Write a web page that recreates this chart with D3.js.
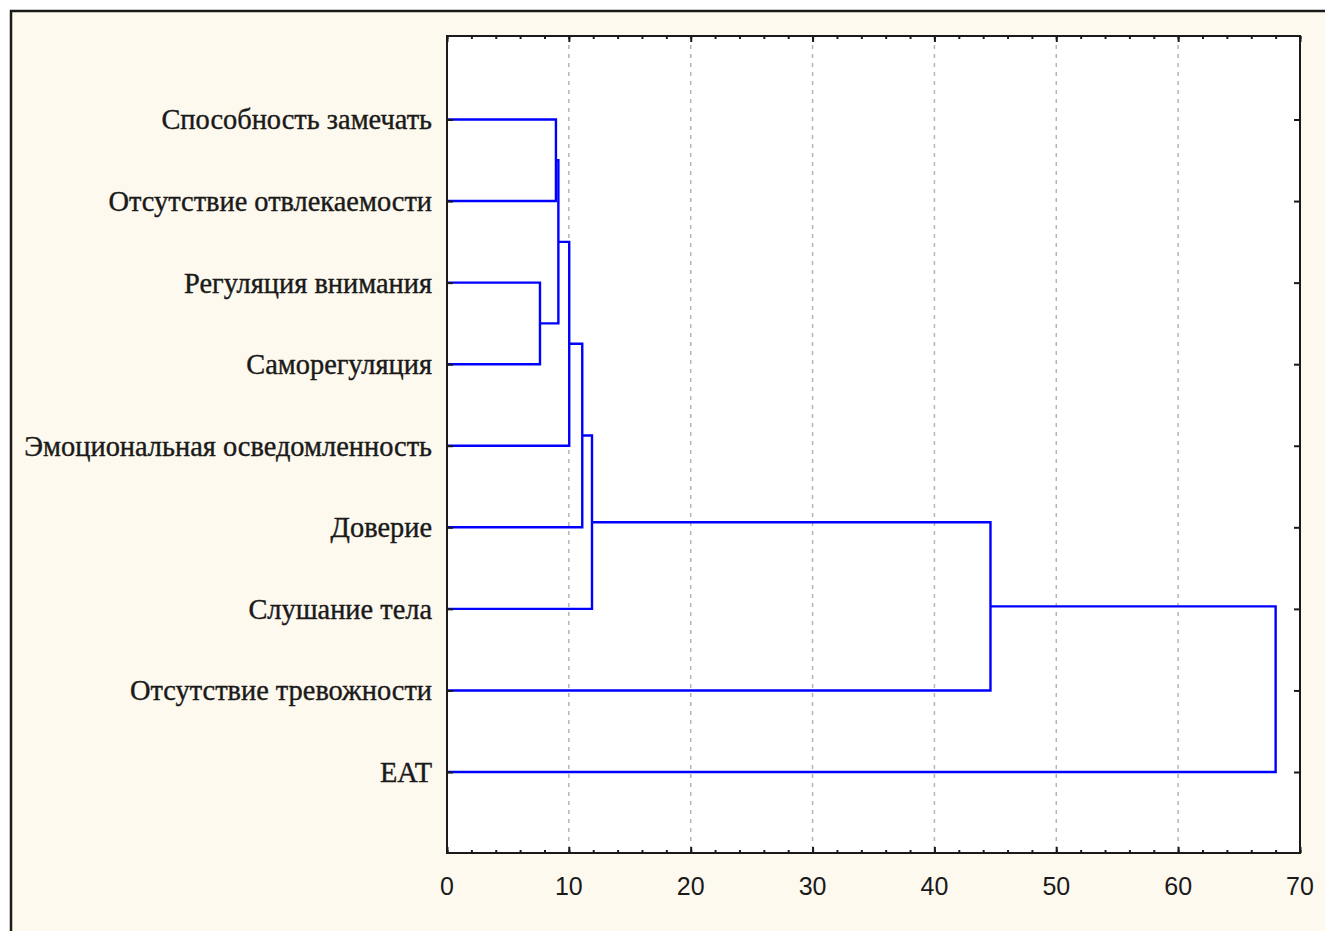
<!DOCTYPE html>
<html>
    <head>
        <meta charset="UTF-8">
        <script src="https://d3js.org/d3.v7.min.js"></script>
        <style>
            body { margin: 0; background: #ffffff; }
            .leaf-label { font-family: "Liberation Serif", "Times New Roman", serif; font-size: 28.4px; fill: #1a1a1a; stroke: #1a1a1a; stroke-width: 0.4px; }
            .tick-label { font-family: "Liberation Sans", Arial, sans-serif; font-size: 25px; fill: #1a1a1a; }
        </style>
    </head>
    <body>
        <div id="chart"></div>
        <script type="text/javascript">
            // leaves, top to bottom
            var leaves = ["Способность замечать", "Отсутствие отвлекаемости", "Регуляция внимания",
                          "Саморегуляция", "Эмоциональная осведомленность", "Доверие",
                          "Слушание тела", "Отсутствие тревожности", "EAT"];
            // joins: [child a, child b, linkage distance]; ids 0-8 are leaves, 9+ are joins in order
            var joins = [
                [2, 3, 7.63],
                [0, 1, 8.94],
                [10, 9, 9.14],
                [11, 4, 10.03],
                [12, 5, 11.1],
                [13, 6, 11.9],
                [14, 7, 44.6],
                [15, 8, 68.0]
            ];
            var xTicks = [0, 10, 20, 30, 40, 50, 60, 70];

            var width = 1325;
            var height = 931;
            var plotTop = 36, plotBottom = 853;

            var svg = d3.select("#chart")
                .append("svg")
                .attr("width", width)
                .attr("height", height);

            // outer frame
            svg.append("rect")
                .attr("x", 11).attr("y", 11)
                .attr("width", width + 20).attr("height", height + 20)
                .attr("fill", "#fef9ee")
                .attr("stroke", "#1a1a1a")
                .attr("stroke-width", 2.5);

            var xscale = d3.scaleLinear().domain([0, 70]).range([447, 1300]);
            var yscale = d3.scaleLinear().domain([1, leaves.length]).range([119.5, 772]);

            // plot area
            svg.append("rect")
                .attr("x", xscale(0)).attr("y", plotTop)
                .attr("width", xscale(70) - xscale(0))
                .attr("height", plotBottom - plotTop)
                .attr("fill", "#ffffff");

            // grid
            svg.append("g")
                .selectAll("line")
                .data(xTicks.filter(d => d > 0 && d < 70))
                .enter()
                .append("line")
                .attr("x1", d => xscale(d)).attr("x2", d => xscale(d))
                .attr("y1", plotTop).attr("y2", plotBottom)
                .attr("stroke", "#b4b4b4")
                .attr("stroke-width", 1.5)
                .attr("stroke-dasharray", "4,5");

            // nodes: position of every leaf and join
            var nodes = leaves.map((name, i) => ({ h: 0, y: yscale(i + 1) }));
            joins.forEach(function (j) {
                var a = nodes[j[0]], b = nodes[j[1]];
                nodes.push({ h: j[2], y: (a.y + b.y) / 2, a: a, b: b });
            });

            svg.append("g")
                .selectAll("path")
                .data(nodes.filter(d => d.a))
                .enter()
                .append("path")
                .attr("d", d => "M" + xscale(d.a.h) + "," + d.a.y +
                                "H" + xscale(d.h) + "V" + d.b.y + "H" + xscale(d.b.h))
                .attr("fill", "none")
                .attr("stroke", "#0000ff")
                .attr("stroke-width", 2.4);

            // axes: ticks inward on all sides
            var minor = d3.range(0, 71, 2);
            var xb = d3.axisBottom(xscale).tickValues(minor).tickSizeInner(-3).tickSizeOuter(0).tickFormat("");
            var xt = d3.axisTop(xscale).tickValues(minor).tickSizeInner(-3).tickSizeOuter(0).tickFormat("");
            var xbMaj = d3.axisBottom(xscale).tickValues(xTicks).tickSizeInner(-6).tickSizeOuter(0).tickFormat("");
            var xtMaj = d3.axisTop(xscale).tickValues(xTicks).tickSizeInner(-6).tickSizeOuter(0).tickFormat("");
            var leafPos = d3.range(1, leaves.length + 1);
            var yl = d3.axisLeft(yscale).tickValues(leafPos).tickSizeInner(-6).tickSizeOuter(0).tickFormat("");
            var yr = d3.axisRight(yscale).tickValues(leafPos).tickSizeInner(-6).tickSizeOuter(0).tickFormat("");

            [[xb, "translate(0," + plotBottom + ")"],
             [xbMaj, "translate(0," + plotBottom + ")"],
             [xt, "translate(0," + plotTop + ")"],
             [xtMaj, "translate(0," + plotTop + ")"],
             [yl, "translate(" + xscale(0) + ",0)"],
             [yr, "translate(" + xscale(70) + ",0)"]].forEach(function (p) {
                var g = svg.append("g").attr("transform", p[1]).call(p[0]);
                g.select(".domain").remove();
                g.selectAll("line").attr("stroke", "#1a1a1a").attr("stroke-width", 2);
            });

            // plot border
            svg.append("rect")
                .attr("x", xscale(0)).attr("y", plotTop)
                .attr("width", xscale(70) - xscale(0))
                .attr("height", plotBottom - plotTop)
                .attr("fill", "none")
                .attr("stroke", "#1a1a1a")
                .attr("stroke-width", 2);

            // x tick labels
            svg.append("g")
                .selectAll("text")
                .data(xTicks)
                .enter()
                .append("text")
                .attr("class", "tick-label")
                .attr("x", d => xscale(d))
                .attr("y", 895)
                .attr("text-anchor", "middle")
                .text(d => d);

            // leaf labels
            svg.append("g")
                .selectAll("text")
                .data(leaves)
                .enter()
                .append("text")
                .attr("class", "leaf-label")
                .attr("x", 432)
                .attr("y", (d, i) => yscale(i + 1))
                .attr("dy", "0.35em")
                .attr("text-anchor", "end")
                .text(d => d);
        </script>
    </body>
</html>
